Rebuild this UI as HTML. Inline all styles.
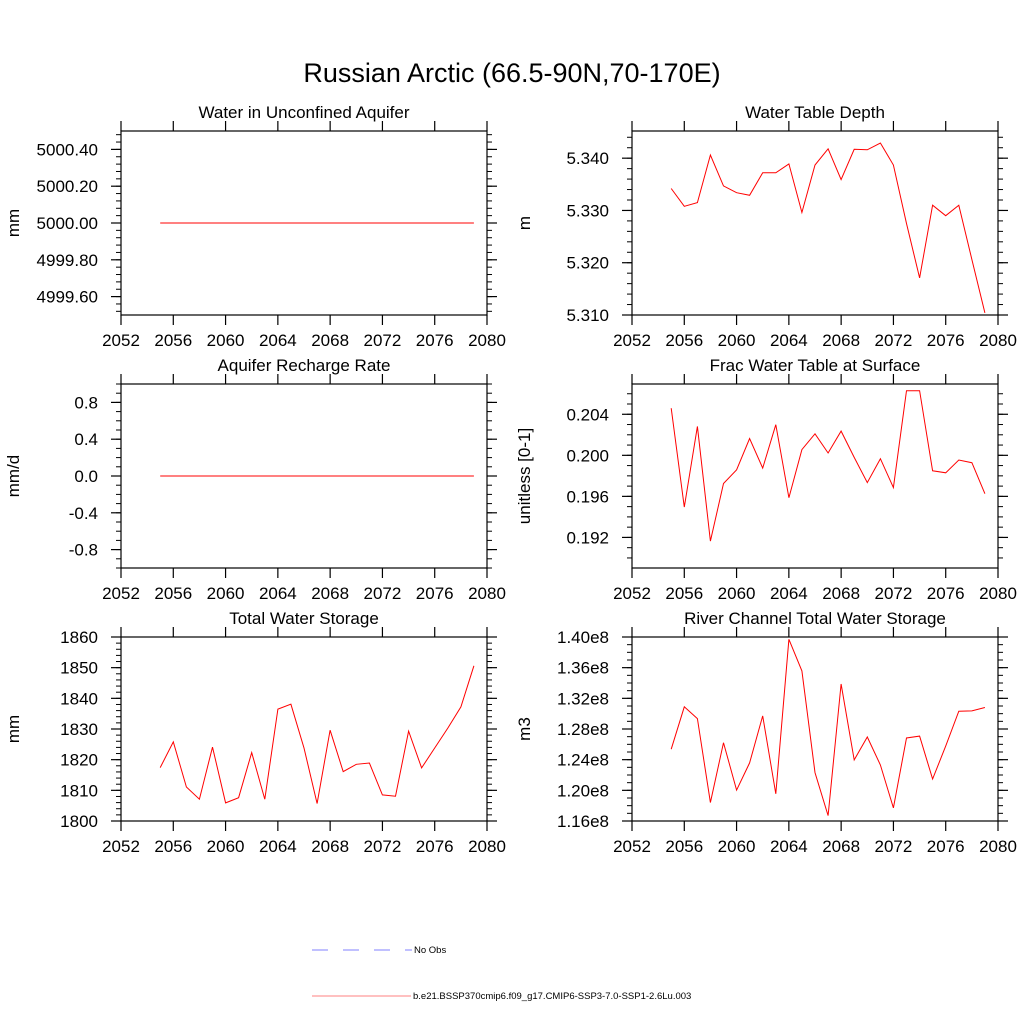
<!DOCTYPE html>
<html><head><meta charset="utf-8"><style>
body{margin:0;background:#fff}
svg{display:block;font-family:"Liberation Sans",sans-serif}
</style></head><body>
<svg id="c" width="1024" height="1024" viewBox="0 0 1024 1024" xmlns="http://www.w3.org/2000/svg">
<text x="512" y="82" font-size="27" text-anchor="middle">Russian Arctic (66.5-90N,70-170E)</text>
<g>
<line x1="312" y1="950" x2="412" y2="950" stroke="#8080ff" stroke-width="1" stroke-dasharray="16,15"/>
<text x="414" y="953" font-size="9.5">No Obs</text>
<line x1="312" y1="996" x2="411" y2="996" stroke="#ff8080" stroke-width="1"/>
<text x="413" y="999" font-size="9.5">b.e21.BSSP370cmip6.f09_g17.CMIP6-SSP3-7.0-SSP1-2.6Lu.003</text>
</g>
</svg>
<script>
const years=[2055,2056,2057,2058,2059,2060,2061,2062,2063,2064,2065,2066,2067,2068,2069,2070,2071,2072,2073,2074,2075,2076,2077,2078,2079];
const xTicks=[2052,2056,2060,2064,2068,2072,2076,2080];
const aquiferWater=[5000,5000,5000,5000,5000,5000,5000,5000,5000,5000,5000,5000,5000,5000,5000,5000,5000,5000,5000,5000,5000,5000,5000,5000,5000];
const rechargeRate=[0,0,0,0,0,0,0,0,0,0,0,0,0,0,0,0,0,0,0,0,0,0,0,0,0];
const waterTableDepth=[5.3342,5.3308,5.3315,5.3406,5.3347,5.3334,5.3329,5.3372,5.3372,5.3389,5.3296,5.3387,5.3418,5.3359,5.3417,5.3416,5.3429,5.3387,5.3275,5.3171,5.3310,5.3290,5.3310,5.3206,5.3104];
const fracWaterTable=[0.20459,0.19495,0.20282,0.19164,0.19725,0.19859,0.20164,0.19875,0.20298,0.19587,0.20056,0.20210,0.20023,0.20236,0.19980,0.19734,0.19967,0.19685,0.20630,0.20630,0.19849,0.19830,0.19954,0.19928,0.19626];
const totalWaterStorage=[1817.4,1825.8,1811.1,1807.1,1824.1,1805.9,1807.6,1822.3,1807.1,1836.5,1838.1,1823.8,1805.7,1829.6,1816.1,1818.5,1818.9,1808.5,1808.1,1829.3,1817.3,1823.8,1830.3,1837.2,1850.6];
const riverStorage=[1.2537,1.3089,1.2936,1.1841,1.2621,1.2003,1.2358,1.2971,1.1955,1.3970,1.3558,1.2231,1.1670,1.3387,1.2397,1.2695,1.2331,1.1771,1.2682,1.2708,1.2148,1.2577,1.3032,1.3036,1.3080];
const NS="http://www.w3.org/2000/svg";
const svg=document.getElementById('c');
function el(t,a,p){const e=document.createElementNS(NS,t);for(const k in a)e.setAttribute(k,a[k]);(p||svg).appendChild(e);return e;}
const panels=[
 {name:'water-unconfined-aquifer',title:'Water in Unconfined Aquifer',yl:'mm',x0:121,y0:131,data:aquiferWater,ymin:4999.5,ymax:5000.5,ticks:[4999.6,4999.8,5000.0,5000.2,5000.4],minor:0.04,fmt:v=>v.toFixed(2)},
 {name:'water-table-depth',title:'Water Table Depth',yl:'m',x0:632,y0:131,data:waterTableDepth,ymin:5.310,ymax:5.3452,ticks:[5.310,5.320,5.330,5.340],minor:0.002,fmt:v=>v.toFixed(3)},
 {name:'aquifer-recharge-rate',title:'Aquifer Recharge Rate',yl:'mm/d',x0:121,y0:384,data:rechargeRate,ymin:-1,ymax:1,ticks:[-0.8,-0.4,0.0,0.4,0.8],minor:0.1,fmt:v=>v.toFixed(1)},
 {name:'frac-water-table-surface',title:'Frac Water Table at Surface',yl:'unitless [0-1]',x0:632,y0:384,data:fracWaterTable,ymin:0.18902,ymax:0.20695,ticks:[0.192,0.196,0.200,0.204],minor:0.001,fmt:v=>v.toFixed(3)},
 {name:'total-water-storage',title:'Total Water Storage',yl:'mm',x0:121,y0:637,data:totalWaterStorage,ymin:1800,ymax:1860,ticks:[1800,1810,1820,1830,1840,1850,1860],minor:2,fmt:v=>v.toFixed(0)},
 {name:'river-channel-storage',title:'River Channel Total Water Storage',yl:'m3',x0:632,y0:637,data:riverStorage,ymin:1.16,ymax:1.40,ticks:[1.16,1.20,1.24,1.28,1.32,1.36,1.40],minor:0.01,fmt:v=>v.toFixed(2)+'e8'}
];
const W=366,H=184;
panels.forEach(p=>{
 const g=el('g',{});
 
 
 const X=v=>p.x0+(v-2052)/28*W;
 const Y=v=>p.y0+H-(v-p.ymin)/(p.ymax-p.ymin)*H;
 const t=el('text',{x:p.x0+W/2,y:p.y0-13,'font-size':17,'text-anchor':'middle'},g);t.textContent=p.title;
 
 
 const yt=el('text',{x:0,y:0,'font-size':17,'text-anchor':'middle',transform:`translate(${p.x0-102},${p.y0+H/2}) rotate(-90)`},g);yt.textContent=p.yl;
 
 
 const n=Math.round((p.ymax-p.ymin)/p.minor);
 const start=Math.ceil(p.ymin/p.minor-1e-6);
 for(let i=start;i*p.minor<=p.ymax+1e-9;i++){
  const y=Y(i*p.minor);
  el('line',{x1:p.x0-5,x2:p.x0,y1:y,y2:y,stroke:'#000','stroke-width':1},g);
  el('line',{x1:p.x0+W,x2:p.x0+W+5,y1:y,y2:y,stroke:'#000','stroke-width':1},g);
 }
 p.ticks.forEach(v=>{
  const y=Y(v);
  el('line',{x1:p.x0-10,x2:p.x0,y1:y,y2:y,stroke:'#000','stroke-width':1.2},g);
  el('line',{x1:p.x0+W,x2:p.x0+W+10,y1:y,y2:y,stroke:'#000','stroke-width':1.2},g);
  const l=el('text',{x:p.x0-23,y:y+6,'font-size':17,'text-anchor':'end'},g);l.textContent=p.fmt(v);
  
  
 });
 xTicks.forEach(v=>{
  const x=X(v);
  el('line',{x1:x,x2:x,y1:p.y0+H,y2:p.y0+H+10,stroke:'#000','stroke-width':1.2},g);
  el('line',{x1:x,x2:x,y1:p.y0-10,y2:p.y0,stroke:'#000','stroke-width':1.2},g);
  const l=el('text',{x:x,y:p.y0+H+31,'font-size':17,'text-anchor':'middle'},g);l.textContent=v;
  
  
 });
 el('rect',{x:p.x0,y:p.y0,width:W,height:H,fill:'none',stroke:'#000','stroke-width':1.2},g);
 const line=el('polyline',{points:p.data.map((v,i)=>X(years[i]).toFixed(1)+','+Y(v).toFixed(1)).join(' '),fill:'none',stroke:'#ff0000','stroke-width':1},g);
 
 
});
</script>
</body></html>
